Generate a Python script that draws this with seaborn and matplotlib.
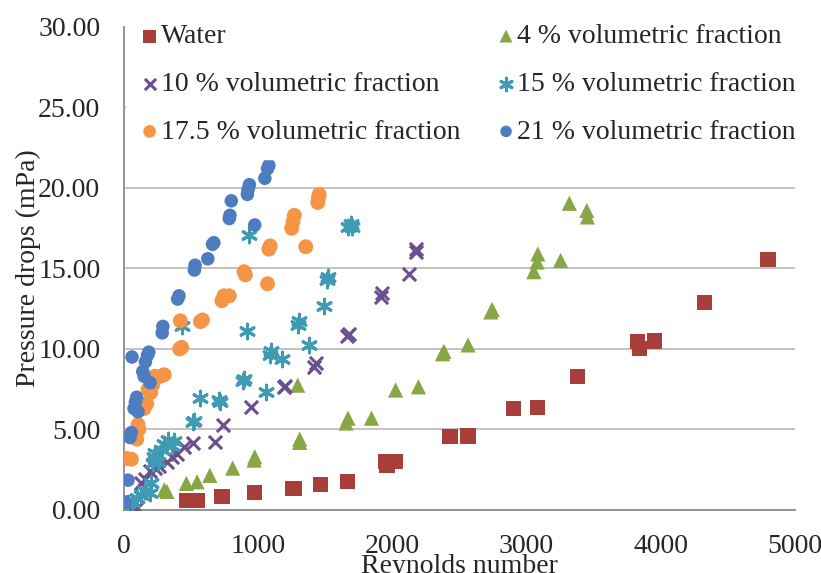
import matplotlib
matplotlib.use("Agg")
import matplotlib.pyplot as plt
import seaborn as sns
import pandas as pd
from matplotlib.ticker import FormatStrFormatter, MultipleLocator

# Reynolds number / pressure drop readings per series
water_re = [470, 545, 730, 975, 1255, 1270, 1465, 1665, 1950, 1960, 2020, 2430, 2565,
            2905, 3080, 3380, 3830, 3840, 3955, 4330, 4800]
water_dp = [0.6, 0.6, 0.85, 1.1, 1.35, 1.35, 1.6, 1.75, 3.0, 2.75, 3.0, 4.55, 4.6,
            6.3, 6.35, 8.3, 10.45, 10.05, 10.5, 12.9, 15.55]

f4_re = [20, 60, 300, 320, 465, 545, 640, 810, 970, 975, 1295, 1310, 1310, 1655, 1670,
         1845, 2025, 2195, 2375, 2385, 2565, 2735, 2745, 3055, 3080, 3085, 3255, 3320,
         3450, 3455]
f4_dp = [0.05, 0.1, 1.25, 1.15, 1.65, 1.75, 2.15, 2.6, 3.1, 3.3, 7.75, 4.2, 4.4, 5.4,
         5.7, 5.7, 7.45, 7.65, 9.7, 9.85, 10.25, 12.3, 12.45, 14.8, 15.4, 15.9, 15.5,
         19.05, 18.6, 18.2]

f10_re = [60, 95, 130, 160, 195, 230, 260, 320, 360, 395, 450, 515, 680, 740, 950,
          1190, 1200, 1420, 1430, 1660, 1675, 1915, 1925, 2125, 2175, 2180]
f10_dp = [0.0, 0.15, 1.65, 1.9, 2.4, 2.6, 2.75, 3.0, 3.3, 3.5, 3.9, 4.15, 4.25, 5.3,
          6.4, 7.65, 7.7, 8.9, 9.1, 10.8, 10.9, 13.2, 13.5, 14.65, 16.0, 16.2]

f15_re = [30, 60, 95, 130, 160, 195, 205, 220, 225, 230, 250, 280, 300, 330, 355, 370,
          430, 515, 520, 565, 705, 715, 885, 895, 920, 935, 1060, 1085, 1095, 1175,
          1295, 1305, 1380, 1490, 1510, 1520, 1670, 1690, 1700]
f15_dp = [0.45, 0.5, 0.75, 0.9, 1.2, 1.05, 1.65, 2.9, 3.3, 3.55, 3.0, 3.75, 4.1, 4.35,
          3.95, 4.3, 11.4, 5.45, 5.55, 6.95, 6.8, 6.7, 8.0, 8.15, 11.1, 17.05, 7.35,
          9.6, 9.85, 9.35, 11.5, 11.75, 10.25, 12.65, 14.3, 14.5, 17.6, 17.75, 17.6]

f175_re = [20, 55, 95, 100, 105, 110, 150, 170, 180, 200, 215, 230, 270, 300, 415, 420,
           430, 570, 585, 730, 745, 785, 895, 905, 1070, 1080, 1090, 1250, 1260, 1270,
           1355, 1445, 1450, 1455]
f175_dp = [3.2, 3.15, 4.4, 4.9, 5.3, 5.0, 6.3, 6.6, 7.5, 7.3, 7.8, 8.3, 8.3, 8.4, 10.0,
           11.75, 10.1, 11.7, 11.8, 13.0, 13.3, 13.3, 14.8, 14.6, 14.05, 16.2, 16.4,
           17.5, 17.9, 18.3, 16.35, 19.1, 19.4, 19.6]

f21_re = [0, 10, 30, 45, 55, 60, 75, 85, 95, 105, 140, 150, 160, 175, 185, 195, 285,
          290, 400, 410, 525, 530, 625, 660, 670, 785, 790, 800, 920, 925, 935, 975,
          1050, 1070, 1080]
f21_dp = [0.45, 0.5, 1.85, 4.5, 4.8, 9.5, 6.3, 6.7, 7.0, 6.1, 8.6, 8.3, 9.2, 9.6, 9.8,
          7.9, 11.0, 11.4, 13.1, 13.3, 14.9, 15.2, 15.6, 16.5, 16.6, 18.1, 18.3, 19.2,
          19.6, 19.9, 20.2, 17.7, 20.6, 21.2, 21.4]

labels = ["Water", "4 % volumetric fraction", "10 % volumetric fraction",
          "15 % volumetric fraction", "17.5 % volumetric fraction",
          "21 % volumetric fraction"]
series = [(water_re, water_dp), (f4_re, f4_dp), (f10_re, f10_dp),
          (f15_re, f15_dp), (f175_re, f175_dp), (f21_re, f21_dp)]
colors = ["#A83E3A", "#87A746", "#6C4F8F", "#3E9BB3", "#F59545", "#4D7DC0"]
markers = ["s", "^", "x", (6, 2, 0), "o", "o"]
sizes = [120, 120, 90, 110, 115, 95]

sns.set_style("white")
plt.rcParams["font.family"] = ["Liberation Serif", "DejaVu Serif"]
FS = 20

fig = plt.figure(figsize=(8.21, 5.73), dpi=100)
ax = fig.add_axes([0.151, 0.110, 0.817, 0.843])

for (x, y), lab, c, m, s in zip(series, labels, colors, markers, sizes):
    df = pd.DataFrame({"Re": x, "dp": y})
    if m in ("x", (6, 2, 0)):
        sns.scatterplot(data=df, x="Re", y="dp", ax=ax, marker=m, color=c, s=s,
                        linewidth=2.2, label=lab, zorder=3)
    else:
        sns.scatterplot(data=df, x="Re", y="dp", ax=ax, marker=m, color=c, s=s,
                        edgecolor="none", linewidth=0, label=lab, zorder=3)

ax.set_xlim(0, 5000)
ax.set_ylim(0, 30)
ax.xaxis.set_major_locator(MultipleLocator(1000))
ax.yaxis.set_major_locator(MultipleLocator(5))
ax.yaxis.set_major_formatter(FormatStrFormatter("%.2f"))
ax.grid(axis="y", color="#BEBEBE", linewidth=1.3)
ax.set_axisbelow(True)
for side in ("top", "right"):
    ax.spines[side].set_visible(False)
for side in ("left", "bottom"):
    ax.spines[side].set_color("#8C8C8C")
    ax.spines[side].set_linewidth(1.3)
ax.tick_params(axis="x", direction="out", length=7, width=1.3, color="#8C8C8C",
               labelsize=FS, pad=10)
ax.tick_params(axis="y", direction="inout", length=12, width=1.3, color="#8C8C8C",
               labelsize=FS, pad=11)

ax.set_xlabel("Reynolds number", fontsize=FS, labelpad=-3)
ax.set_ylabel("Pressure drops (mPa)", fontsize=FS, labelpad=-2)

h, l = ax.get_legend_handles_labels()
order = [0, 2, 4, 1, 3, 5]
leg = ax.legend([h[i] for i in order], [l[i] for i in order], ncol=2,
                loc="upper left", bbox_to_anchor=(0.003, 1.035), fontsize=FS,
                frameon=True, facecolor="white", edgecolor="white", framealpha=1,
                markerscale=0.85, handletextpad=0.05, handlelength=0.7,
                labelspacing=0.8, columnspacing=1.3, borderpad=0.5,
                borderaxespad=0)
leg.set_zorder(5)

fig.savefig("out.png", dpi=100)
